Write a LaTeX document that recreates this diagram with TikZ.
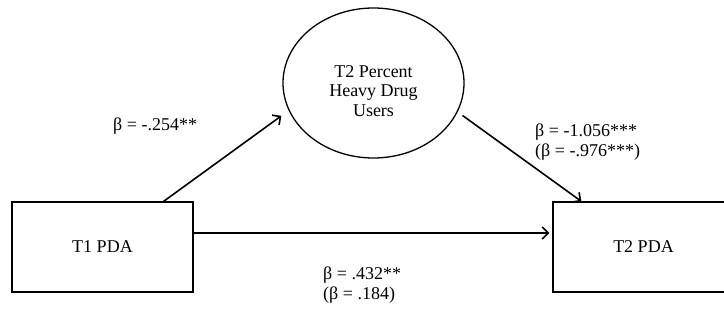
\documentclass[tikz,border=0pt]{standalone}
\usepackage{fontspec}
\setmainfont{Liberation Serif}
\usepackage{tikz}
\usetikzlibrary{shapes.geometric,arrows.meta}

\begin{document}
\begin{tikzpicture}[x=1pt,y=-1pt,font=\fontsize{18}{19.5}\selectfont,
  box/.style={rectangle,draw,line width=1.3pt,minimum width=181pt,minimum height=90pt},
  path/.style={-{Straight Barb[length=6pt,width=12pt]},line width=1.6pt}]
\clip (0,0) rectangle (724,320);
\node[box] (t1pda) at (102.5,247) {T1 PDA};
\node[box] (t2pda) at (643.5,247) {T2 PDA};
\node[ellipse,draw,line width=1.3pt,minimum width=181pt,minimum height=150pt] (heavy) at (373.5,83) {};
\node[align=center] (heavytxt) at ([yshift=-8pt]heavy.center) {T2 Percent\\Heavy Drug\\Users};
\draw[path,shorten >=9pt] ([xshift=-30pt]t1pda.north east) -- (heavy.198);
\draw[path,shorten <=6pt] (heavy.341.5) -- ([xshift=29pt]t2pda.north west);
\draw[path,shorten >=3pt] ([yshift=14pt]t1pda.east) -- ([yshift=14pt]t2pda.west);
\node[anchor=base west,inner sep=0pt] (beta1) at (113,131) {β = -.254**};
\node[anchor=west,align=left,inner sep=0pt] (beta2) at (535,142) {β = -1.056***\\(β = -.976***)};
\node[anchor=west,align=left,inner sep=0pt] (beta3) at (323,285) {β = .432**\\(β = .184)};
\end{tikzpicture}
\end{document}
